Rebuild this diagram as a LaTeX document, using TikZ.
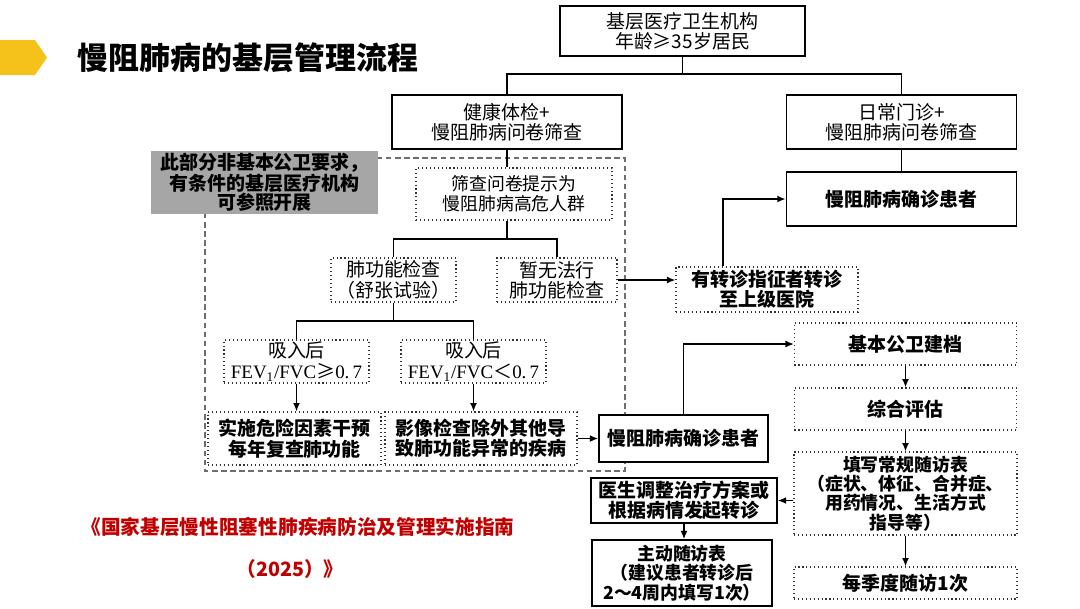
\documentclass[tikz,border=0pt]{standalone}
\usepackage{fontspec}
\usepackage{xcolor}
\usepackage{tikz}
\usetikzlibrary{arrows.meta}
\setmainfont{Noto Sans CJK SC}
\newfontfamily\latinserif{Liberation Serif}
\definecolor{FlowTitleBar}{HTML}{F5C21B}
\definecolor{FlowNoteGray}{HTML}{A6A6A6}
\definecolor{FlowRegion}{HTML}{6E6E6E}
\definecolor{FlowCite}{HTML}{C00000}

\begin{document}
\begin{tikzpicture}[
  x=0.025cm, y=-0.025cm,
  every node/.style={font=\fontsize{13.5}{14.5}\selectfont},
  heavytext/.style={font=\fontsize{13.5}{14.5}\selectfont\bfseries},
  solidbox/.style={draw=black, line width=1.1pt, fill=white, align=center, inner sep=0pt},
  dotbox/.style={draw=black!80, dotted, line width=0.8pt, fill=white, align=center, inner sep=0pt},
  regionline/.style={draw=FlowRegion, dash pattern=on 4pt off 2.5pt, line width=0.9pt},
  conn/.style={draw=black, line width=1.1pt},
  arr/.style={conn, -{Latex[length=6pt,width=5pt]}},
]
\useasboundingbox (0,0) rectangle (1080,608);

% ============ title and source ============
\fill[FlowTitleBar] (0,40) -- (35,40) -- (47,57.5) -- (35,75) -- (0,75) -- cycle;
\node[anchor=west, font=\fontsize{22}{24}\selectfont\bfseries] (title) at (73,57.5) {慢阻肺病的基层管理流程};
\node[font=\fontsize{14}{16}\selectfont\bfseries, text=FlowCite] (cite1) at (298,527) {《国家基层慢性阻塞性肺疾病防治及管理实施指南};
\node[font=\fontsize{14}{16}\selectfont\bfseries, text=FlowCite] (cite2) at (290,569) {（2025）》};

% ============ optional part: dashed region ============
\draw[regionline] (205,158) rectangle (625,471);
\node[fill=FlowNoteGray, inner sep=0pt, align=center, minimum width=5.675cm, minimum height=1.575cm,
  font=\fontsize{13.5}{13.5}\selectfont\bfseries] (note) at (264.5,182.5)
  {此部分非基本公卫要求，\\有条件的基层医疗机构\\可参照开展};

% top rows
\node[solidbox, minimum width=6.125cm, minimum height=1.25cm] (inst) at (682.5,31) {基层医疗卫生机构\\年龄≥35岁居民};
\node[solidbox, minimum width=5.75cm, minimum height=1.35cm] (hcheck) at (507,122) {健康体检+\\慢阻肺病问卷筛查};
\node[solidbox, minimum width=5.75cm, minimum height=1.35cm] (clinic) at (901.5,122) {日常门诊+\\慢阻肺病问卷筛查};
\node[solidbox, heavytext, minimum width=5.75cm, minimum height=1.35cm] (dxright) at (901.5,199) {慢阻肺病确诊患者};

% screening branch
\node[dotbox, font=\fontsize{12.7}{14.2}\selectfont, minimum width=4.9cm, minimum height=1.3cm] (highrisk) at (514,194) {筛查问卷提示为\\慢阻肺病高危人群};
\node[dotbox, minimum width=3.125cm, minimum height=1.1cm] (spiro) at (393.5,280) {肺功能检查\\（舒张试验）};
\node[dotbox, minimum width=3.0cm, minimum height=1.1cm] (nospiro) at (557,280) {暂无法行\\肺功能检查};
\node[dotbox, minimum width=3.625cm, minimum height=1.075cm] (ratiohi) at (296.5,361.5)
  {吸入后\\{\latinserif FEV\textsubscript{1}/FVC}≥{\latinserif 0.\,7}};
\node[dotbox, minimum width=3.625cm, minimum height=1.075cm] (ratiolo) at (473.5,361.5)
  {吸入后\\{\latinserif FEV\textsubscript{1}/FVC}＜{\latinserif 0.\,7}};
\node[dotbox, heavytext, minimum width=4.325cm, minimum height=1.325cm] (annual) at (294.5,438.5) {实施危险因素干预\\每年复查肺功能};
\node[dotbox, heavytext, minimum width=4.8cm, minimum height=1.325cm] (imaging) at (481,438.5) {影像检查除外其他导\\致肺功能异常的疾病};

% confirmed patients and follow-up
\node[solidbox, heavytext, minimum width=4.225cm, minimum height=1.175cm] (dxleft) at (683.5,438.5) {慢阻肺病确诊患者};
\node[dotbox, heavytext, minimum width=4.55cm, minimum height=1.125cm] (referral) at (767,289.5) {有转诊指征者转诊\\至上级医院};
\node[dotbox, heavytext, minimum width=5.55cm, minimum height=1.05cm] (archive) at (905.5,344) {基本公卫建档};
\node[dotbox, heavytext, minimum width=5.55cm, minimum height=1.05cm] (assess) at (905.5,409) {综合评估};
\node[dotbox, font=\fontsize{12.7}{13.6}\selectfont\bfseries, minimum width=5.575cm, minimum height=2.075cm] (followup) at (905.5,493.5)
  {填写常规随访表\\（症状、体征、合并症、\\用药情况、生活方式\\指导等）};
\node[dotbox, heavytext, minimum width=5.575cm, minimum height=0.8cm] (quarter) at (905.5,583) {每季度随访1次};
\node[solidbox, heavytext, minimum width=4.65cm, minimum height=1.125cm] (adjust) at (684,500.5) {医生调整治疗方案或\\根据病情发起转诊};
\node[solidbox, font=\fontsize{12.7}{14}\selectfont\bfseries, minimum width=4.5cm, minimum height=1.65cm] (active) at (682,573) {主动随访表\\（建议患者转诊后\\2～4周内填写1次）};

% ============ connectors ============
\coordinate (split1) at (682.5,74);
\draw[conn] (inst) -- (split1);
\draw[conn] (split1) -| (hcheck);
\draw[conn] (split1) -| (clinic);
\draw[conn] (clinic) -- (dxright);
\draw[conn] (hcheck.south) -- (hcheck.south |- highrisk.north);

\coordinate (split2) at (507,239);
\draw[conn] (split2 |- highrisk.south) -- (split2);
\draw[conn] (split2) -| (spiro);
\draw[conn] (split2) -| (nospiro);

\coordinate (split3) at (393.5,321);
\draw[conn] (spiro) -- (split3);
\draw[conn] (split3) -| (ratiohi);
\draw[conn] (split3) -| (ratiolo);
\draw[arr] (ratiohi.south) -- (ratiohi.south |- annual.north);
\draw[arr] (ratiolo.south) -- (ratiolo.south |- imaging.north);
\draw[arr] (imaging) -- (dxleft);

% referral path
\draw[arr] (nospiro.east) -- (nospiro.east -| referral.west);
\draw[arr] ([xshift=-1.1cm]referral.north) |- (dxright.west);

% follow-up column
\draw[arr] (dxleft.north) |- (archive.west);
\draw[arr] (archive) -- (assess);
\draw[arr] (assess) -- (followup);
\draw[arr] (followup) -- (quarter);
\draw[arr] (followup.west |- adjust.east) -- (adjust.east);
\draw[arr] (adjust.south) -- (adjust.south |- active.north);

\end{tikzpicture}
\end{document}
